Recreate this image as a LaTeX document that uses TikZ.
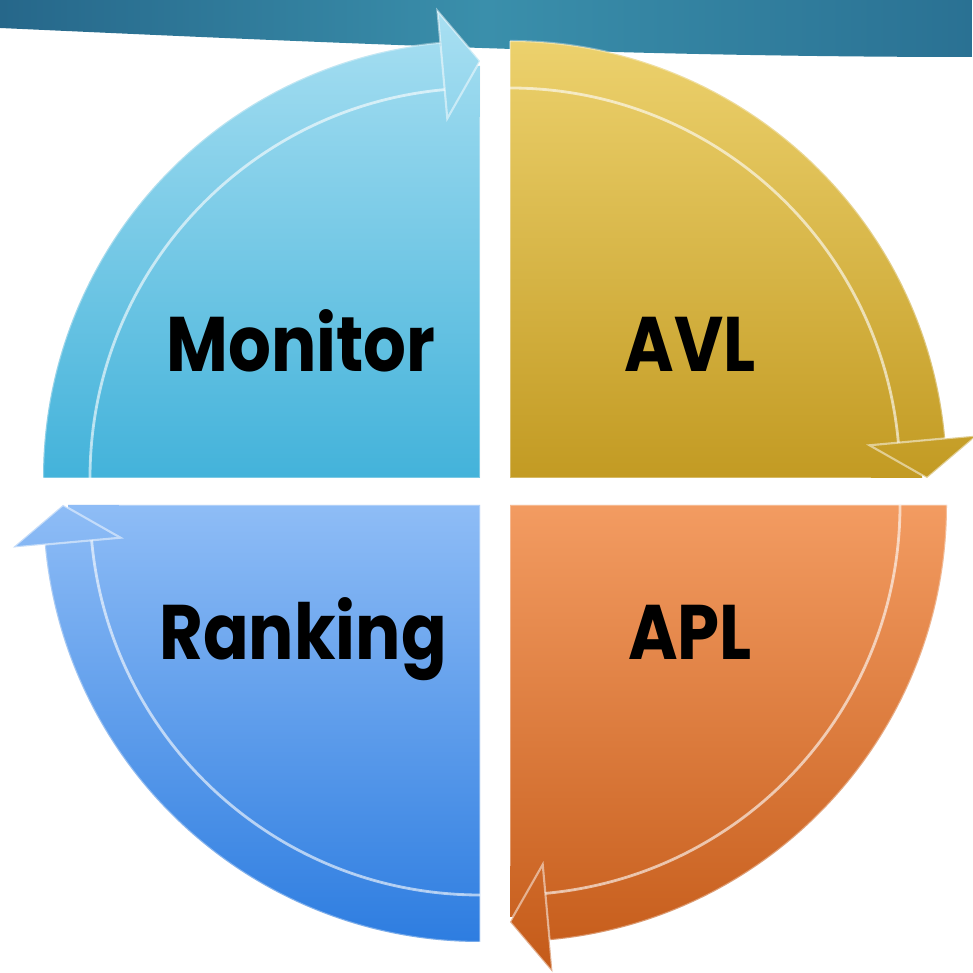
\documentclass[tikz,border=0pt]{standalone}
\usepackage{fontspec}
\newfontfamily\labfont{Poppins}[FakeStretch=0.87]
\usetikzlibrary{calc}
\definecolor{monT}{HTML}{AAE0F2}
\definecolor{monB}{HTML}{42B2DA}
\definecolor{avlT}{HTML}{EDD26E}
\definecolor{avlB}{HTML}{C29A22}
\definecolor{aplT}{HTML}{F39C62}
\definecolor{aplB}{HTML}{C45A18}
\definecolor{rnkT}{HTML}{8FBDF6}
\definecolor{rnkB}{HTML}{2C7CE0}
\definecolor{banL}{HTML}{26678A}
\definecolor{banM}{HTML}{3A8FAB}
\definecolor{banR}{HTML}{2A7193}
\newcommand\qbody[3]{\path[#3] (#1) -- ($(#1)+(180+#2:390)$) arc[start angle=180+#2,end angle=95.2+#2,radius=390] -- ($(#1)+(95.2+#2:412)$) arc[start angle=95.2+#2,end angle=90+#2,radius=412] -- cycle;}
\newcommand\qband[3]{\path[#3] ($(#1)+(180+#2:437)$) arc[start angle=180+#2,end angle=95.2+#2,radius=437] -- ($(#1)+(95.2+#2:390)$) arc[start angle=95.2+#2,end angle=180+#2,radius=390] -- cycle;}
\newcommand\qhead[3]{\path[#3] ($(#1)+(95.2+#2:361)$) -- ($(#1)+(90+#2:417)$) -- ($(#1)+(95.2+#2:469)$) -- cycle;}
\newcommand\quadrantdraw[6]{%
  \qbody{#1}{#2}{fill=black,opacity=0.10,shift={(3,-6)}}
  \qband{#1}{#2}{fill=black,opacity=0.10,shift={(3,-6)}}
  \qhead{#1}{#2}{fill=black,opacity=0.10,shift={(3,-6)}}
  \begin{scope}\qbody{#1}{#2}{clip}\shade[top color=#3,bottom color=#4] #5 rectangle #6;\end{scope}
  \begin{scope}\qband{#1}{#2}{clip}\shade[top color=#3,bottom color=#4] #5 rectangle #6;\end{scope}
  \begin{scope}\qhead{#1}{#2}{clip}\shade[top color=#3,bottom color=#4] #5 rectangle #6;\end{scope}
  \draw[white,opacity=0.6,line width=0.8pt] ($(#1)+(180+#2:390)$) arc[start angle=180+#2,end angle=95.2+#2,radius=390];
  \draw[white,opacity=0.35,line width=0.6pt] ($(#1)+(180+#2:437)$) arc[start angle=180+#2,end angle=95.2+#2,radius=437];
  \qhead{#1}{#2}{draw=white,draw opacity=0.5,line width=0.6pt}
  \draw[white,opacity=0.3,line width=0.5pt] ($(#1)+(180+#2:437)$) -- (#1) -- ($(#1)+(90+#2:361)$);
}
\tikzset{lab/.style={font=\labfont\bfseries\fontsize{22}{26}\selectfont,text=black,anchor=base,inner sep=0pt}}
\begin{document}
\begin{tikzpicture}[x=0.01cm,y=0.01cm]
\useasboundingbox (0,0) rectangle (972,973);
\fill[white] (0,0) rectangle (972,973);
% banner
\shade[left color=banL,right color=banR,middle color=banM]
  (0,973) -- (0,945) .. controls (330,930) and (640,916) .. (972,916) -- (972,973) -- cycle;
\coordinate (cM) at (480,495);
\coordinate (cA) at (510,495);
\coordinate (cP) at (510,468);
\coordinate (cR) at (480,468);
\quadrantdraw{cM}{0}{monT}{monB}{(30,490)}{(492,968)}
\quadrantdraw{cA}{-90}{avlT}{avlB}{(500,490)}{(975,940)}
\quadrantdraw{cP}{-180}{aplT}{aplB}{(500,0)}{(952,472)}
\quadrantdraw{cR}{-270}{rnkT}{rnkB}{(0,25)}{(492,472)}
\node[lab] (tmon) at (301,601) {Monitor};
\node[lab] (tavl) at (690,601) {AVL};
\node[lab] (trank) at (303,313) {Ranking};
\node[lab] (tapl) at (690,313) {APL};
\end{tikzpicture}
\end{document}
